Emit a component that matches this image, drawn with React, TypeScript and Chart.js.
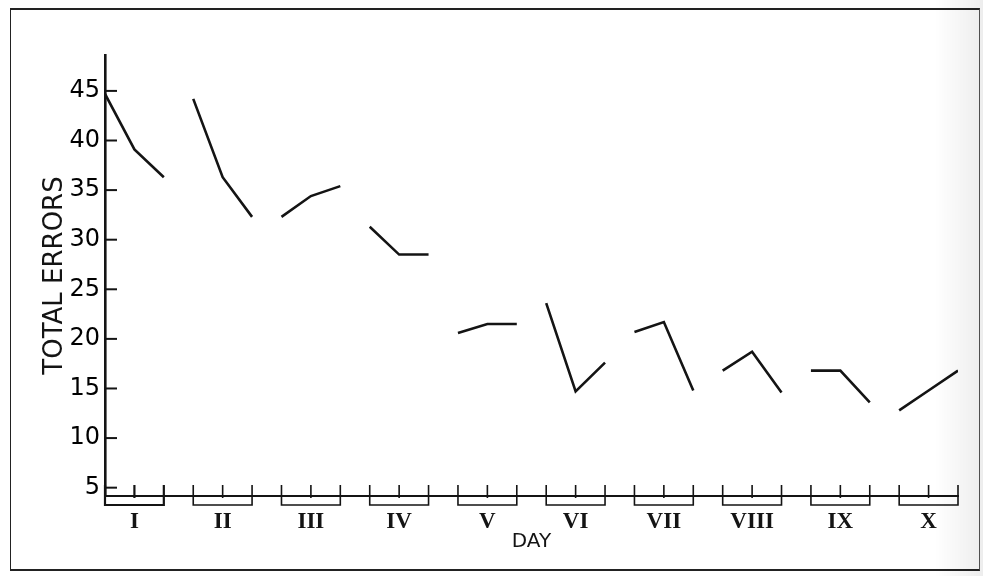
import React, { useEffect, useRef } from 'react';
import { Chart, registerables } from 'chart.js';

Chart.register(...registerables);

const days = ['I', 'II', 'III', 'IV', 'V', 'VI', 'VII', 'VIII', 'IX', 'X'];
const trial1 = [44.7, 44.2, 32.3, 31.3, 20.6, 23.6, 20.7, 16.8, 16.8, 12.8];
const trial2 = [39.1, 36.3, 34.4, 28.5, 21.5, 14.7, 21.7, 18.7, 16.8, 14.8];
const trial3 = [36.3, 32.3, 35.4, 28.5, 21.5, 17.6, 14.8, 14.6, 13.6, 16.8];
const yTicks = [5, 10, 15, 20, 25, 30, 35, 40, 45];
const trialsPerDay = 3;

const INK = '#141414';

const decorPlugin = {
  id: 'decor',
  afterDraw(chart: any) {
    const { ctx, chartArea, scales } = chart;
    const xs = scales.x;
    const ys = scales.y;
    ctx.save();
    ctx.strokeStyle = INK;
    ctx.lineCap = 'butt';
    // inward y tick marks
    ctx.lineWidth = 2;
    yTicks.forEach((v) => {
      const py = ys.getPixelForValue(v);
      ctx.beginPath();
      ctx.moveTo(chartArea.left, py);
      ctx.lineTo(chartArea.left + 12, py);
      ctx.stroke();
    });
    // day brackets
    const base = chartArea.bottom;
    days.forEach((_, d) => {
      const p0 = xs.getPixelForValue(d * trialsPerDay);
      const p1 = xs.getPixelForValue(d * trialsPerDay + 1);
      const p2 = xs.getPixelForValue(d * trialsPerDay + 2);
      ctx.lineWidth = d === 0 ? 2.2 : 1.6;
      ctx.beginPath();
      ctx.moveTo(p0, base - 11);
      ctx.lineTo(p0, base + 9);
      ctx.lineTo(p2, base + 9);
      ctx.lineTo(p2, base - 11);
      ctx.moveTo(p1, base - 11);
      ctx.lineTo(p1, base + 2);
      ctx.stroke();
    });
    ctx.restore();
  },
};

export default function App() {
  const ref = useRef<HTMLCanvasElement>(null);

  useEffect(() => {
    document.body.style.margin = '0';
    const canvas = ref.current;
    if (!canvas) return;
    const datasets = days.map((d, i) => ({
      label: d,
      data: [
        { x: i * trialsPerDay, y: trial1[i] },
        { x: i * trialsPerDay + 1, y: trial2[i] },
        { x: i * trialsPerDay + 2, y: trial3[i] },
      ],
      borderColor: INK,
      borderWidth: 2.6,
      pointRadius: 0,
      tension: 0,
      fill: false,
    }));
    const chart = new Chart(canvas, {
      type: 'line',
      data: { datasets },
      plugins: [decorPlugin],
      options: {
        animation: false,
        responsive: false,
        devicePixelRatio: 1,
        layout: { padding: { top: 55, right: 25, left: 0, bottom: 0 } },
        plugins: { legend: { display: false }, tooltip: { enabled: false } },
        scales: {
          x: {
            type: 'linear',
            position: 'bottom',
            min: 0,
            max: 29,
            afterBuildTicks: (scale: any) => {
              scale.ticks = days.map((_, i) => ({ value: i * trialsPerDay + 1 }));
            },
            afterFit: (scale: any) => {
              scale.height = 80;
            },
            grid: { display: false, drawTicks: false, tickLength: 0 },
            border: { display: true, color: INK, width: 2 },
            ticks: {
              autoSkip: false,
              maxRotation: 0,
              padding: 12,
              color: INK,
              font: { family: 'Liberation Serif', weight: 'bold', size: 23 },
              callback: (v: any) => days[Math.round((Number(v) - 1) / trialsPerDay)],
            },
            title: {
              display: true,
              text: 'DAY',
              color: INK,
              font: { family: 'DejaVu Sans', size: 20 },
              padding: { top: 0, bottom: 22 },
            },
          },
          y: {
            type: 'linear',
            min: 4.16,
            max: 48.62,
            afterBuildTicks: (scale: any) => {
              scale.ticks = yTicks.map((v) => ({ value: v }));
            },
            afterFit: (scale: any) => {
              scale.width = 105;
            },
            grid: { display: false, drawTicks: false, tickLength: 0 },
            border: { display: true, color: INK, width: 2.6 },
            ticks: {
              padding: 5,
              color: '#000',
              font: { family: 'DejaVu Sans', size: 24 },
            },
            title: {
              display: true,
              text: 'TOTAL ERRORS',
              color: INK,
              font: { family: 'DejaVu Sans', size: 26 },
              padding: { top: 40, bottom: 0 },
            },
          },
        },
      },
    });
    return () => chart.destroy();
  }, []);

  return (
    <div style={{ position: 'relative', width: 983, height: 576, background: '#fff' }}>
      <canvas ref={ref} width={983} height={576} style={{ display: 'block' }} />
      <div
        style={{
          position: 'absolute',
          left: 10,
          top: 8,
          width: 968,
          height: 559,
          borderTop: '2px solid #222',
          borderLeft: '1.5px solid #222',
          borderBottom: '2px solid #222',
          borderRight: '1.5px solid #555',
          pointerEvents: 'none',
        }}
      />
      <div
        style={{
          position: 'absolute',
          left: 935,
          top: 0,
          width: 48,
          height: 576,
          background: 'linear-gradient(to right, rgba(0,0,0,0), rgba(0,0,0,0.07))',
          pointerEvents: 'none',
        }}
      />
    </div>
  );
}
